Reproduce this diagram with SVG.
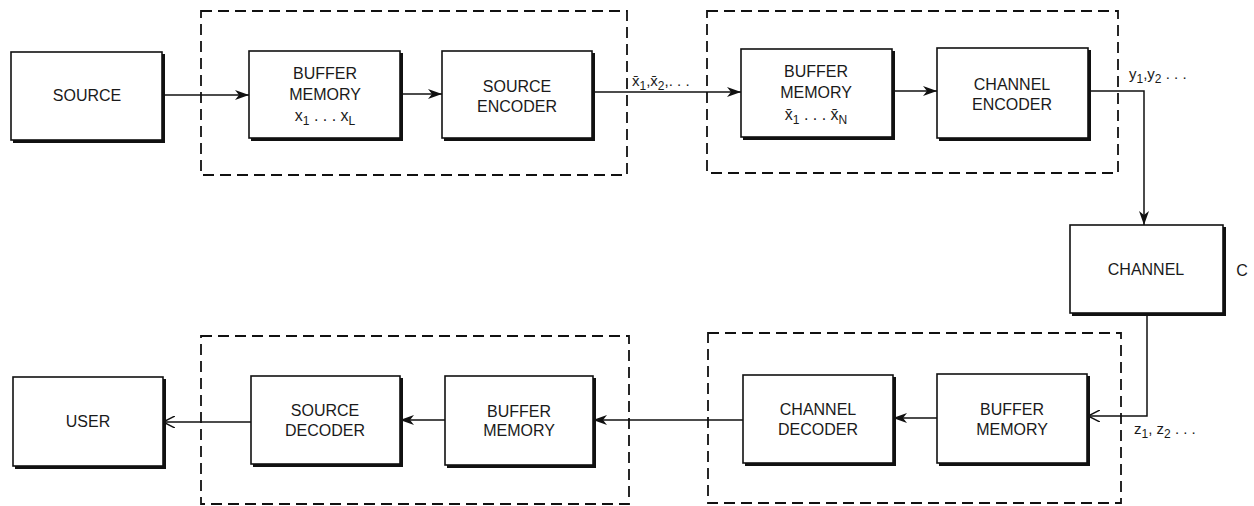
<svg xmlns="http://www.w3.org/2000/svg" width="1254" height="506" viewBox="0 0 1254 506">
<style>
  .box { fill: #fff; stroke: #111; stroke-width: 1.6; }
  .shadow { fill: #111; }
  .dash { fill: none; stroke: #111; stroke-width: 1.8; stroke-dasharray: 11 6; }
  .wire { fill: none; stroke: #111; stroke-width: 1.5; }
  text { font-family: "Liberation Sans", "Open Sans", sans-serif; font-size: 16px; fill: #1a1a1a; text-anchor: middle; }
  .lbl { text-anchor: start; font-size: 15px; }
  .sub { font-size: 12px; }
</style>
<defs>
  <marker id="fill" viewBox="0 0 14 10" refX="14" refY="5" markerWidth="14" markerHeight="10" markerUnits="userSpaceOnUse" orient="auto">
    <path d="M0,0 L14,5 L0,10 L4,5 Z" fill="#111"/>
  </marker>
  <marker id="open" viewBox="0 0 12 12" refX="12" refY="6" markerWidth="12" markerHeight="12" markerUnits="userSpaceOnUse" orient="auto">
    <path d="M0,0 L12,6 L0,12" fill="none" stroke="#111" stroke-width="1.5"/>
  </marker>
</defs>

<g id="groups">
  <rect id="enc-source-group" class="dash" x="201" y="11" width="426" height="164"/>
  <rect id="enc-channel-group" class="dash" x="707" y="11" width="411" height="162"/>
  <rect id="dec-source-group" class="dash" x="201" y="336" width="428" height="168"/>
  <rect id="dec-channel-group" class="dash" x="708" y="333" width="413" height="170"/>
</g>

<g id="connectors">
  <path class="wire" d="M162,95 L249,95" marker-end="url(#fill)"/>
  <path class="wire" d="M400,94 L442,94" marker-end="url(#fill)"/>
  <path class="wire" d="M592,92 L741,92" marker-end="url(#fill)"/>
  <path class="wire" d="M892,91 L937,91" marker-end="url(#fill)"/>
  <path class="wire" d="M1088,91 L1144,91 L1144,225" marker-end="url(#fill)"/>
  <path class="wire" d="M1147,313 L1147,416 L1088,416" marker-end="url(#open)"/>
  <path class="wire" d="M937,418 L893,418" marker-end="url(#fill)"/>
  <path class="wire" d="M743,420 L593,420" marker-end="url(#fill)"/>
  <path class="wire" d="M445,420 L400,420" marker-end="url(#fill)"/>
  <path class="wire" d="M251,422 L163,422" marker-end="url(#open)"/>
</g>

<g id="source">
  <rect class="shadow" x="13" y="54" width="152" height="89"/>
  <rect class="box" x="11" y="52" width="151" height="88"/>
  <text x="87" y="101">SOURCE</text>
</g>

<g id="buffer-memory-1">
  <rect class="shadow" x="251" y="53" width="152" height="88"/>
  <rect class="box" x="249" y="51" width="151" height="87"/>
  <text x="325" y="79">BUFFER</text>
  <text x="325" y="100">MEMORY</text>
  <text x="325" y="121">x<tspan class="sub" dy="4">1</tspan><tspan dy="-4"> . . . x</tspan><tspan class="sub" dy="4">L</tspan></text>
</g>

<g id="source-encoder">
  <rect class="shadow" x="444" y="53" width="151" height="88"/>
  <rect class="box" x="442" y="51" width="150" height="87"/>
  <text x="517" y="92">SOURCE</text>
  <text x="517" y="112">ENCODER</text>
</g>

<g id="buffer-memory-2">
  <rect class="shadow" x="743" y="51" width="152" height="89"/>
  <rect class="box" x="741" y="49" width="151" height="88"/>
  <text x="816" y="77">BUFFER</text>
  <text x="816" y="98">MEMORY</text>
  <text x="816" y="120">x̄<tspan class="sub" dy="4">1</tspan><tspan dy="-4"> . . . x̄</tspan><tspan class="sub" dy="4">N</tspan></text>
</g>

<g id="channel-encoder">
  <rect class="shadow" x="939" y="50" width="152" height="91"/>
  <rect class="box" x="937" y="48" width="151" height="90"/>
  <text x="1012" y="90">CHANNEL</text>
  <text x="1012" y="110">ENCODER</text>
</g>

<g id="channel">
  <rect class="shadow" x="1072" y="227" width="154" height="89"/>
  <rect class="box" x="1070" y="225" width="153" height="88"/>
  <text x="1146" y="275">CHANNEL</text>
  <text x="1242" y="276">C</text>
</g>

<g id="buffer-memory-4">
  <rect class="shadow" x="939" y="376" width="151" height="90"/>
  <rect class="box" x="937" y="374" width="150" height="89"/>
  <text x="1012" y="415">BUFFER</text>
  <text x="1012" y="435">MEMORY</text>
</g>

<g id="channel-decoder">
  <rect class="shadow" x="745" y="377" width="151" height="89"/>
  <rect class="box" x="743" y="375" width="150" height="88"/>
  <text x="818" y="415">CHANNEL</text>
  <text x="818" y="435">DECODER</text>
</g>

<g id="buffer-memory-3">
  <rect class="shadow" x="447" y="378" width="149" height="90"/>
  <rect class="box" x="445" y="376" width="148" height="89"/>
  <text x="519" y="417">BUFFER</text>
  <text x="519" y="436">MEMORY</text>
</g>

<g id="source-decoder">
  <rect class="shadow" x="253" y="378" width="150" height="89"/>
  <rect class="box" x="251" y="376" width="149" height="88"/>
  <text x="325" y="416">SOURCE</text>
  <text x="325" y="436">DECODER</text>
</g>

<g id="user">
  <rect class="shadow" x="15" y="379" width="151" height="90"/>
  <rect class="box" x="13" y="377" width="150" height="89"/>
  <text x="88" y="427">USER</text>
</g>

<g id="labels">
  <text class="lbl" x="632" y="86">x̄<tspan class="sub" dy="4">1</tspan><tspan dy="-4">,x̄</tspan><tspan class="sub" dy="4">2</tspan><tspan dy="-4">,. . .</tspan></text>
  <text class="lbl" x="1129" y="79">y<tspan class="sub" dy="4">1</tspan><tspan dy="-4">,y</tspan><tspan class="sub" dy="4">2</tspan><tspan dy="-4"> . . .</tspan></text>
  <text class="lbl" x="1134" y="434">z<tspan class="sub" dy="4">1</tspan><tspan dy="-4">, z</tspan><tspan class="sub" dy="4">2</tspan><tspan dy="-4"> . . .</tspan></text>
</g>
</svg>
